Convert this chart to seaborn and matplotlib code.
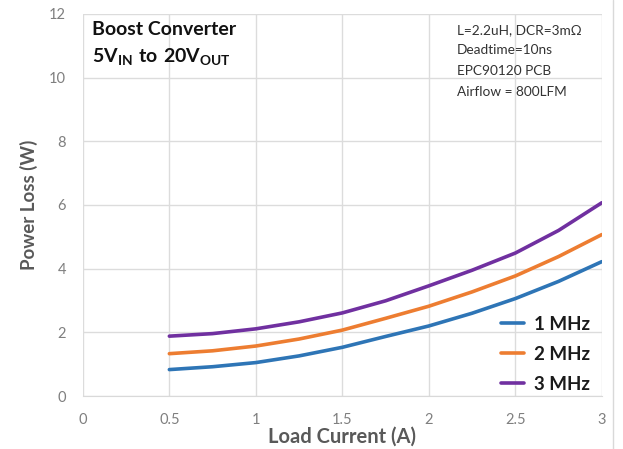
import matplotlib
matplotlib.use("Agg")
import matplotlib.pyplot as plt
import seaborn as sns
import pandas as pd

load_current = [0.5, 0.75, 1.0, 1.25, 1.5, 1.75, 2.0, 2.25, 2.5, 2.75, 3.0]
loss_1mhz = [0.83, 0.92, 1.05, 1.26, 1.53, 1.87, 2.20, 2.60, 3.06, 3.60, 4.22]
loss_2mhz = [1.33, 1.42, 1.57, 1.79, 2.07, 2.44, 2.82, 3.27, 3.77, 4.38, 5.07]
loss_3mhz = [1.88, 1.96, 2.11, 2.33, 2.61, 2.99, 3.46, 3.95, 4.49, 5.20, 6.07]
series_names = ["1 MHz", "2 MHz", "3 MHz"]
colors = ["#2e75b6", "#ed7d31", "#7030a0"]
x_ticks = [0, 0.5, 1, 1.5, 2, 2.5, 3]
x_tick_labels = ["0", "0.5", "1", "1.5", "2", "2.5", "3"]
y_ticks = [0, 2, 4, 6, 8, 10, 12]

sns.set_style("white")
plt.rcParams['font.family'] = ['Lato', 'DejaVu Sans']
plt.rcParams['mathtext.fontset'] = 'custom'
plt.rcParams['mathtext.rm'] = 'Lato'
plt.rcParams['mathtext.bf'] = 'Lato:bold'

df = pd.DataFrame({
    "Load Current (A)": load_current * 3,
    "Power Loss (W)": loss_1mhz + loss_2mhz + loss_3mhz,
    "Series": [series_names[0]] * len(load_current) + [series_names[1]] * len(load_current) + [series_names[2]] * len(load_current),
})

fig = plt.figure(figsize=(6.23, 4.49), dpi=100)
ax = fig.add_axes([0.133, 0.118, 0.833, 0.851])
sns.lineplot(data=df, x="Load Current (A)", y="Power Loss (W)", hue="Series",
             palette=colors, linewidth=2.6, ax=ax)

ax.set_xlim(0, 3)
ax.set_ylim(0, 12)
ax.set_xticks(x_ticks)
ax.set_xticklabels(x_tick_labels)
ax.set_yticks(y_ticks)
ax.grid(True, color="#dcdcdc", linewidth=1.0)
ax.set_axisbelow(True)
for s in ["top", "right", "left"]:
    ax.spines[s].set_visible(False)
ax.spines["bottom"].set_color("#d9d9d9")
ax.tick_params(axis="both", length=0, labelsize=10.5, labelcolor="#7f7f7f", pad=12)

ax.set_xlabel("Load Current (A)", fontsize=14.5, fontweight="bold", color="#595959", labelpad=0)
ax.set_ylabel("Power Loss (W)", fontsize=13.5, fontweight="bold", color="#595959", labelpad=8)

leg = ax.legend(loc="lower right", frameon=False, fontsize=13.5, handlelength=1.2,
                bbox_to_anchor=(1.01, -0.035), labelspacing=0.68, handletextpad=0.55)
for t in leg.get_texts():
    t.set_fontweight("bold")
    t.set_color("#1a1a1a")

fig.text(92 / 623, 1 - 21 / 449, "Boost Converter", fontsize=14, fontweight="bold",
         va="top", ha="left", color="#111111")
fig.text(92 / 623, 1 - 46 / 449, r"$\mathbf{5V_{IN}\ to\ 20V_{OUT}}$", fontsize=14,
         va="top", ha="left", color="#111111")

info = ["L=2.2uH, DCR=3m\u03a9", "Deadtime=10ns", "EPC90120 PCB", "Airflow = 800LFM"]
for i, line in enumerate(info):
    fig.text(457 / 623, 1 - (24 + i * 20.5) / 449, line, fontsize=9.8,
             va="top", ha="left", color="#333333")

fig.add_artist(plt.Line2D([613 / 623, 613 / 623], [0, 1], color="#d9d9d9", linewidth=1))

fig.savefig("out.png", dpi=100, facecolor="white")
